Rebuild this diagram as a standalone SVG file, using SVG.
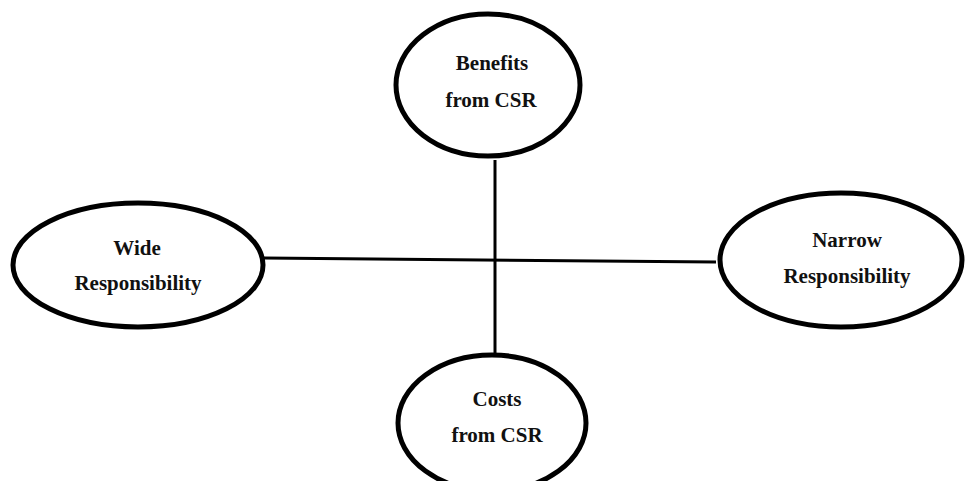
<svg xmlns="http://www.w3.org/2000/svg" width="966" height="481" viewBox="0 0 966 481">
  <style>
    .node ellipse { fill: #ffffff; stroke: #000000; stroke-width: 5; }
    .node text { font-family: "Liberation Serif", "Times New Roman", serif; font-weight: bold; font-size: 21px; fill: #111111; text-anchor: middle; }
    .links line { stroke: #000000; stroke-width: 3; }
  </style>
  <rect width="966" height="481" fill="#ffffff"/>

  <!-- axis lines joining the four ovals -->
  <g id="connectors" class="links">
    <line x1="264" y1="258" x2="716" y2="262"/>
    <line x1="495" y1="160" x2="495" y2="353"/>
  </g>

  <g id="benefits" class="node">
    <ellipse cx="488" cy="85" rx="92" ry="71"/>
    <text x="492" y="70">Benefits</text>
    <text x="491" y="107">from CSR</text>
  </g>

  <g id="wide" class="node">
    <ellipse cx="138" cy="265" rx="125" ry="62"/>
    <text x="137" y="255">Wide</text>
    <text x="138" y="290">Responsibility</text>
  </g>

  <g id="narrow" class="node">
    <ellipse cx="841" cy="260" rx="121" ry="67"/>
    <text x="847" y="247">Narrow</text>
    <text x="847" y="283">Responsibility</text>
  </g>

  <g id="costs" class="node">
    <ellipse cx="492" cy="423" rx="94" ry="68"/>
    <text x="497" y="406">Costs</text>
    <text x="497" y="442">from CSR</text>
  </g>
</svg>
